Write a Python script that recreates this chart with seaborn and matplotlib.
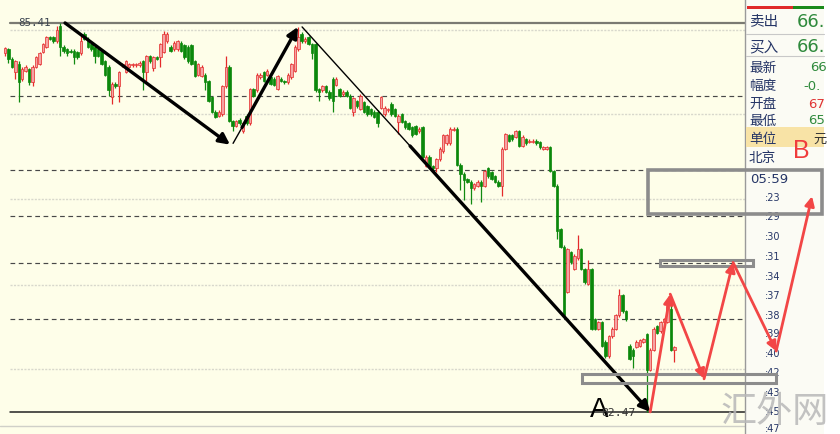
import matplotlib
matplotlib.use("Agg")
import matplotlib.pyplot as plt
from matplotlib.patches import Rectangle
import numpy as np
import pandas as pd
import seaborn as sns

# candles, one per bar (price units)
opens = [85.18, 85.21, 85.14, 85.04, 85.10, 84.99, 85.05, 85.06, 84.96, 85.08,
         85.10, 85.19, 85.23, 85.30, 85.30, 85.27, 85.39, 85.23, 85.21, 85.20,
         85.20, 85.19, 85.18, 85.33, 85.29, 85.25, 85.23, 85.21, 85.20, 85.12,
         85.08, 84.85, 84.95, 84.93, 85.09, 85.04, 85.08, 85.09, 85.09, 85.09,
         85.12, 85.04, 85.16, 85.07, 85.15, 85.15, 85.19, 85.27, 85.23, 85.21,
         85.21, 85.26, 85.24, 85.23, 85.24, 85.12, 85.02, 85.01, 85.02, 84.97,
         84.85, 84.74, 84.71, 84.72, 84.93, 85.08, 84.67, 84.63, 84.68, 84.59,
         84.71, 84.65, 84.91, 84.90, 85.00, 85.04, 85.02, 85.00, 84.99, 84.91,
         84.99, 84.97, 84.96, 85.00, 85.05, 85.21, 85.33, 85.27, 85.30, 85.25,
         85.25, 84.91, 84.90, 84.93, 84.89, 84.99, 84.94, 84.91, 84.87, 84.89,
         84.86, 84.74, 84.82, 84.76, 84.81, 84.78, 84.76, 84.74, 84.74, 84.77,
         84.72, 84.75, 84.80, 84.76, 84.66, 84.72, 84.67, 84.65, 84.62, 84.63,
         84.59, 84.62, 84.33, 84.40, 84.33, 84.31, 84.38, 84.44, 84.50, 84.50,
         84.60, 84.61, 84.34, 84.27, 84.23, 84.21, 84.16, 84.18, 84.21, 84.18,
         84.31, 84.28, 84.25, 84.21, 84.18, 84.46, 84.56, 84.56, 84.55, 84.59,
         84.48, 84.53, 84.51, 84.51, 84.52, 84.51, 84.46, 84.46, 84.47, 84.29,
         84.18, 83.85, 83.72, 83.38, 83.68, 83.55, 83.63, 83.70, 83.55, 83.44,
         83.55, 83.17, 83.10, 83.15, 83.00, 82.89, 83.04, 83.10, 83.20, 83.35,
         83.23, 82.97, 82.94, 82.96, 82.97, 83.00, 83.06, 82.79, 82.94, 83.12,
         83.08, 83.15, 83.15, 83.25, 82.94]
highs = [85.23, 85.22, 85.15, 85.13, 85.12, 85.08, 85.09, 85.07, 85.09, 85.16,
         85.19, 85.26, 85.31, 85.31, 85.31, 85.39, 85.41, 85.24, 85.22, 85.21,
         85.21, 85.20, 85.33, 85.34, 85.30, 85.26, 85.24, 85.22, 85.21, 85.13,
         85.09, 84.96, 84.96, 85.05, 85.11, 85.13, 85.11, 85.11, 85.11, 85.12,
         85.13, 85.17, 85.17, 85.16, 85.16, 85.26, 85.35, 85.34, 85.24, 85.27,
         85.28, 85.27, 85.25, 85.24, 85.25, 85.13, 85.11, 85.09, 85.03, 84.98,
         84.86, 84.75, 84.75, 84.94, 85.16, 85.09, 84.68, 84.68, 84.69, 84.66,
         84.72, 84.92, 84.92, 85.03, 85.03, 85.05, 85.06, 85.01, 85.00, 85.02,
         85.00, 84.98, 85.03, 85.11, 85.24, 85.38, 85.34, 85.30, 85.31, 85.26,
         85.26, 84.92, 84.94, 84.94, 84.90, 85.00, 85.00, 84.92, 84.90, 84.90,
         84.87, 84.85, 84.83, 84.87, 84.82, 84.79, 84.77, 84.75, 84.75, 84.86,
         84.78, 84.77, 84.81, 84.77, 84.72, 84.73, 84.68, 84.66, 84.63, 84.64,
         84.62, 84.63, 84.41, 84.41, 84.34, 84.39, 84.47, 84.57, 84.57, 84.62,
         84.62, 84.62, 84.35, 84.28, 84.24, 84.22, 84.20, 84.22, 84.22, 84.30,
         84.32, 84.29, 84.26, 84.22, 84.47, 84.58, 84.57, 84.57, 84.60, 84.60,
         84.56, 84.54, 84.53, 84.53, 84.53, 84.52, 84.48, 84.48, 84.48, 84.30,
         84.19, 83.86, 83.73, 83.71, 83.69, 83.66, 83.81, 83.71, 83.56, 83.62,
         83.56, 83.18, 83.16, 83.16, 83.01, 83.05, 83.11, 83.21, 83.40, 83.36,
         83.24, 82.98, 82.95, 83.01, 83.02, 83.03, 83.07, 82.95, 83.11, 83.13,
         83.16, 83.18, 83.28, 83.30, 82.97]
lows = [85.16, 85.11, 85.07, 84.99, 84.81, 84.97, 85.04, 84.94, 84.93, 85.07,
        85.09, 85.18, 85.22, 85.28, 85.26, 85.26, 85.16, 85.18, 85.16, 85.18,
        85.10, 85.14, 85.17, 85.28, 85.22, 85.20, 85.11, 85.15, 85.09, 85.01,
        84.86, 84.80, 84.92, 84.81, 85.08, 85.03, 85.07, 85.08, 85.08, 85.08,
        84.90, 84.97, 85.11, 85.05, 85.13, 85.08, 85.18, 85.26, 85.19, 85.20,
        85.20, 85.19, 85.14, 85.11, 85.09, 85.00, 85.01, 85.00, 84.90, 84.81,
        84.73, 84.69, 84.70, 84.71, 84.92, 84.66, 84.59, 84.62, 84.64, 84.58,
        84.64, 84.64, 84.85, 84.89, 84.99, 84.96, 85.01, 84.94, 84.93, 84.90,
        84.96, 84.95, 84.95, 84.99, 85.04, 85.20, 85.26, 85.26, 85.24, 85.14,
        84.89, 84.82, 84.89, 84.88, 84.83, 84.74, 84.93, 84.85, 84.86, 84.85,
        84.76, 84.71, 84.77, 84.75, 84.73, 84.71, 84.71, 84.69, 84.62, 84.76,
        84.71, 84.74, 84.71, 84.70, 84.57, 84.65, 84.61, 84.60, 84.55, 84.56,
        84.58, 84.39, 84.32, 84.32, 84.30, 84.28, 84.37, 84.43, 84.49, 84.49,
        84.59, 84.33, 84.15, 84.07, 84.20, 84.04, 84.15, 84.17, 84.06, 84.17,
        84.24, 84.22, 84.20, 84.17, 84.10, 84.45, 84.51, 84.52, 84.54, 84.47,
        84.47, 84.49, 84.50, 84.50, 84.49, 84.46, 84.45, 84.45, 84.28, 84.17,
        83.78, 83.71, 83.19, 83.37, 83.59, 83.54, 83.62, 83.54, 83.44, 83.43,
        83.09, 83.09, 83.09, 82.96, 82.88, 82.88, 83.03, 83.09, 83.19, 83.22,
        83.16, 82.86, 82.80, 82.95, 82.96, 82.99, 82.47, 82.78, 82.93, 83.06,
        83.07, 83.14, 83.14, 82.93, 82.85]
closes = [85.22, 85.14, 85.08, 85.12, 84.96, 85.06, 85.08, 84.96, 85.08, 85.15,
          85.18, 85.25, 85.30, 85.29, 85.27, 85.36, 85.23, 85.20, 85.18, 85.19,
          85.15, 85.15, 85.27, 85.29, 85.23, 85.21, 85.16, 85.16, 85.10, 85.02,
          84.90, 84.95, 84.93, 85.04, 85.10, 85.12, 85.10, 85.10, 85.10, 85.11,
          85.04, 85.16, 85.12, 85.15, 85.14, 85.25, 85.33, 85.33, 85.20, 85.26,
          85.27, 85.20, 85.15, 85.12, 85.10, 85.01, 85.10, 85.08, 84.96, 84.82,
          84.74, 84.70, 84.74, 84.93, 85.08, 84.67, 84.63, 84.67, 84.65, 84.65,
          84.65, 84.91, 84.86, 85.02, 85.02, 84.97, 85.05, 84.95, 84.94, 85.01,
          84.97, 84.96, 85.02, 85.10, 85.23, 85.30, 85.27, 85.29, 85.25, 85.18,
          84.90, 84.89, 84.93, 84.89, 84.84, 84.82, 84.99, 84.86, 84.89, 84.86,
          84.77, 84.84, 84.78, 84.86, 84.74, 84.72, 84.72, 84.70, 84.65, 84.85,
          84.77, 84.76, 84.72, 84.71, 84.71, 84.66, 84.62, 84.61, 84.56, 84.57,
          84.61, 84.40, 84.40, 84.33, 84.31, 84.38, 84.46, 84.56, 84.56, 84.61,
          84.61, 84.34, 84.27, 84.22, 84.21, 84.16, 84.19, 84.21, 84.18, 84.29,
          84.25, 84.23, 84.21, 84.18, 84.46, 84.57, 84.52, 84.53, 84.59, 84.48,
          84.55, 84.50, 84.52, 84.52, 84.50, 84.47, 84.47, 84.47, 84.29, 84.18,
          83.84, 83.72, 83.20, 83.70, 83.60, 83.65, 83.70, 83.55, 83.45, 83.55,
          83.10, 83.10, 83.15, 82.97, 82.89, 83.04, 83.10, 83.20, 83.35, 83.23,
          83.17, 82.87, 82.89, 83.00, 83.01, 83.02, 82.79, 82.94, 83.10, 83.07,
          83.15, 83.17, 83.27, 82.94, 82.96]

high_mark = 85.41
low_mark = 82.47
grid_levels = [85.357, 84.722, 84.080, 83.430, 82.795]
dash_levels = [84.858, 84.299, 83.951, 83.596, 83.173]

# hand-drawn trend arrows (bar index, price)
down1_x, down1_y = [17.4, 65.2], [85.41, 84.49]
up1_thin_x, up1_thin_y = [66.1, 68.7], [84.50, 84.62]
up1_x, up1_y = [68.7, 84.9], [84.62, 85.38]
down2_thin_x, down2_thin_y = [86.1, 117.4], [85.38, 84.48]
down2_x, down2_y = [117.4, 187.0], [84.48, 82.47]
red_x = [187.0, 192.8, 202.6, 211.0, 223.5, 233.9]
red_y = [82.47, 83.36, 82.72, 83.60, 82.93, 84.10]

# target boxes (x0, x1, y_top, y_bottom) in bar index / price
boxes = [(186.4, 236.8, 84.299, 83.966),
         (189.9, 216.8, 83.620, 83.575),
         (167.2, 223.5, 82.757, 82.689)]

panel_labels = ["卖出", "买入", "最新", "幅度", "开盘", "最低", "单位", "北京"]
panel_values = ["66.", "66.", "66", "-0.", "67", "65", "元", ""]
time_labels = ["05:59", ":23", ":29", ":30", ":31", ":34", ":37", ":38",
               ":39", ":40", ":42", ":43", ":45", ":47"]

W, H = 840, 435
def fx(px):
    return px / W
def fy(py):
    return 1 - py / H

sns.set_theme(style="white")
plt.rcParams['font.family'] = ['Noto Sans CJK SC', 'DejaVu Sans']
fam = ['DejaVu Sans', 'Noto Sans CJK SC']

fig = plt.figure(figsize=(8.4, 4.35), dpi=100)
ax = fig.add_axes([0, 0, 1, 1])
ax.set_facecolor('#fefee9')
ax.set_xlim(-1.45, 242.0)
ax.set_ylim(82.303, 85.591)
ax.set_xticks([])
ax.set_yticks([])
for s in ax.spines.values():
    s.set_visible(False)

# horizontal levels
xl, xr = fx(10), fx(745)
for lv in grid_levels:
    ax.axhline(lv, xmin=xl, xmax=xr, color='#d8d8cc', lw=1, ls=(0, (1.5, 1)), zorder=1)
for lv in dash_levels:
    ax.axhline(lv, xmin=xl, xmax=xr, color='#484848', lw=0.85, ls=(0, (4, 3)), zorder=1)
ax.axhline(high_mark, xmin=xl, xmax=xr, color='#7a7a72', lw=1.6, zorder=1)
ax.axhline(low_mark, xmin=xl, xmax=xr, color='#222222', lw=1.1, zorder=1)
ax.axhline(82.364, xmin=0, xmax=xr, color='#d0d0c8', lw=1, zorder=1)

# candles
df = pd.DataFrame({'o': opens, 'h': highs, 'l': lows, 'c': closes})
df['x'] = np.arange(len(df))
up = df['c'] >= df['o']
wick_col = np.where(up, '#e42a2a', '#118a11')
ax.vlines(df['x'], df['l'], df['h'], colors=wick_col, lw=0.9, zorder=2)
body = (df['c'] - df['o']).abs().clip(lower=0.008)
bottom = df[['o', 'c']].min(axis=1)
ax.bar(df['x'][up], body[up], bottom=bottom[up], width=0.72,
       color='#f5a3a3', edgecolor='#e42a2a', linewidth=0.5, zorder=3)
ax.bar(df['x'][~up], body[~up], bottom=bottom[~up], width=0.72,
       color='#0b880b', edgecolor='#0b880b', linewidth=0.5, zorder=3)

# black trend lines
sns.lineplot(x=up1_thin_x, y=up1_thin_y, ax=ax, color='black', lw=1, zorder=4)
sns.lineplot(x=down2_thin_x, y=down2_thin_y, ax=ax, color='black', lw=1, zorder=4)
arrow_black = dict(arrowstyle='-|>', color='black', lw=2.4, mutation_scale=16,
                   shrinkA=0, shrinkB=0)
for xs, ys in [(down1_x, down1_y), (up1_x, up1_y), (down2_x, down2_y)]:
    ax.annotate('', xy=(xs[1], ys[1]), xytext=(xs[0], ys[0]),
                arrowprops=arrow_black, zorder=4)

ax.text(fx(18), fy(23), '85.41', transform=ax.transAxes, fontsize=7.8,
        family='DejaVu Sans Mono', color='#3e4652', va='center', ha='left', zorder=4)
ax.text(fx(590), fy(410), 'A', transform=ax.transAxes, fontsize=20,
        family='Liberation Sans', color='black', va='center', ha='left', zorder=6)
ax.text(fx(601), fy(413), '82.47', transform=ax.transAxes, fontsize=8.2,
        family='DejaVu Sans Mono', color='#333333', va='center', ha='left', zorder=6)

# right info panel
ax.add_patch(Rectangle((fx(745), 0), fx(95), 1, transform=ax.transAxes,
                       facecolor='#fbfbf4', edgecolor='none', zorder=5))
ax.add_patch(Rectangle((fx(824), 0), fx(16), 1, transform=ax.transAxes,
                       facecolor='#ffffff', edgecolor='none', zorder=5))
ax.plot([fx(745)] * 2, [0, 1], transform=ax.transAxes, color='#9a9a9a', lw=1, zorder=5)
ax.add_patch(Rectangle((fx(747), fy(10)), fx(46), 3 / H, transform=ax.transAxes,
                       facecolor='#e02a2a', edgecolor='none', zorder=5))
ax.add_patch(Rectangle((fx(793), fy(10)), fx(31), 3 / H, transform=ax.transAxes,
                       facecolor='#1a8a1a', edgecolor='none', zorder=5))
ax.add_patch(Rectangle((fx(746), fy(148)), fx(78), 20 / H, transform=ax.transAxes,
                       facecolor='#f8e3a6', edgecolor='none', zorder=5))
for py in [35, 57]:
    ax.plot([fx(746), fx(824)], [fy(py)] * 2, transform=ax.transAxes,
            color='#c8c8c8', lw=0.8, zorder=5)

label_y = [22, 47, 68, 86, 104, 121, 139, 158]
value_x = [797, 797, 810, 803, 808, 808, 813, 813]
value_col = ['#2f8a3c', '#2f8a3c', '#2f8a3c', '#2f8a3c', '#e03434', '#2f8a3c', '#333333', '#333333']
for i, lab in enumerate(panel_labels):
    big = i < 2
    ax.text(fx(749), fy(label_y[i]), lab, transform=ax.transAxes,
            fontsize=10.5 if big else 9.8, color='#253566', va='center', ha='left', zorder=6)
    ax.text(fx(value_x[i]), fy(label_y[i]), panel_values[i], transform=ax.transAxes,
            fontsize=13 if big else 9.5, color=value_col[i], va='center', ha='left',
            zorder=6, family=fam)

time_y = [180, 198, 217, 237, 257, 277, 296, 316, 334, 354, 373, 393, 412, 429]
for i, t in enumerate(time_labels):
    if i == 0:
        ax.text(fx(750), fy(time_y[i]), t, transform=ax.transAxes, fontsize=9.5,
                color='#253566', va='center', ha='left', zorder=6, family=fam)
    else:
        ax.text(fx(765), fy(time_y[i]), t, transform=ax.transAxes, fontsize=7,
                color='#253566', va='center', ha='left', zorder=6, family=fam)

ax.text(fx(793), fy(151), 'B', transform=ax.transAxes, fontsize=18,
        family='Liberation Sans', color='#f03c3c', va='center', ha='left', zorder=9)

# gray target boxes
for x0, x1, yt, yb in boxes:
    lw = 2.6 if (yt - yb) > 0.1 else 2.2
    ax.add_patch(Rectangle((x0, yb), x1 - x0, yt - yb, facecolor='none',
                           edgecolor='#8c8c8c', lw=lw, zorder=7, clip_on=False))

# red projected zigzag
arrow_red = dict(arrowstyle='-|>', color='#f24646', lw=2, mutation_scale=14,
                 shrinkA=0, shrinkB=0)
for i in range(len(red_x) - 1):
    ax.annotate('', xy=(red_x[i + 1], red_y[i + 1]), xytext=(red_x[i], red_y[i]),
                arrowprops=arrow_red, zorder=8, annotation_clip=False)

# watermark
ax.text(fx(775), fy(412), '汇外网', transform=ax.transAxes, fontsize=26,
        color='#b8b8b8', va='center', ha='center', zorder=9, alpha=0.85)

fig.savefig('out.png', dpi=100, facecolor='#fbfbf4')
